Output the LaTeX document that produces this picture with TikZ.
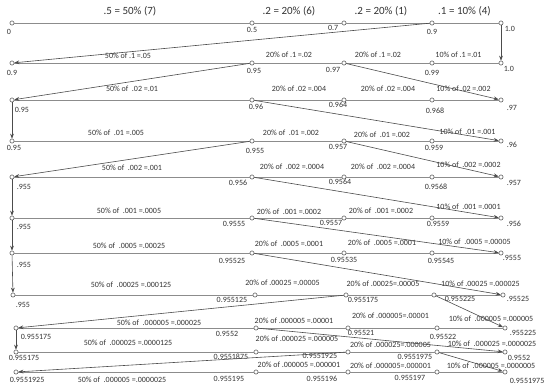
\documentclass[tikz,border=0pt]{standalone}
\usepackage{fontspec}
\setmainfont{Carlito}
\usetikzlibrary{positioning,arrows.meta}
\tikzset{ARROW/.style={draw=black!70, line width=0.6pt, -{Stealth[length=5pt,width=3.8pt]}}}
\tikzset{SEG/.style={draw=black!45, line width=0.9pt}}
\tikzset{PT/.style={circle, draw=black!70, fill=white, line width=0.5pt, inner sep=0pt, minimum size=4.2pt}}
\tikzset{NUM/.style={font=\fontsize{8}{9}\selectfont, text=black!80, inner sep=1pt}}
\tikzset{PCT/.style={font=\fontsize{8}{9}\selectfont, text=black!80, inner sep=0.5pt, midway, above=4pt}}
\tikzset{HEAD/.style={font=\fontsize{11}{12}\selectfont, text=black!80, inner sep=0.5pt, midway, above=6pt}}

\begin{document}
\begin{tikzpicture}[x=1pt, y=-1pt]
    \useasboundingbox (0,0) rectangle (550,391);

    % points
    \node[PT] (p0_0) at (12,23) {};
    \node[PT] (p0_1) at (252,23) {};
    \node[PT] (p0_2) at (344,23) {};
    \node[PT] (p0_3) at (432,23) {};
    \node[PT] (p0_4) at (501,23) {};

    \node[PT] (p1_0) at (12,63) {};
    \node[PT] (p1_1) at (252,63) {};
    \node[PT] (p1_2) at (344,63) {};
    \node[PT] (p1_3) at (432,63) {};
    \node[PT] (p1_4) at (501,63) {};

    \node[PT] (p2_0) at (12,100) {};
    \node[PT] (p2_1) at (252,100) {};
    \node[PT] (p2_2) at (344,100) {};
    \node[PT] (p2_3) at (432,100) {};
    \node[PT] (p2_4) at (501,100) {};

    \node[PT] (p3_0) at (12,141) {};
    \node[PT] (p3_1) at (252,141) {};
    \node[PT] (p3_2) at (344,141) {};
    \node[PT] (p3_3) at (432,141) {};
    \node[PT] (p3_4) at (501,141) {};

    \node[PT] (p4_0) at (12,177) {};
    \node[PT] (p4_1) at (252,177) {};
    \node[PT] (p4_2) at (344,177) {};
    \node[PT] (p4_3) at (432,177) {};
    \node[PT] (p4_4) at (501,177) {};

    \node[PT] (p5_0) at (12,218) {};
    \node[PT] (p5_1) at (252,218) {};
    \node[PT] (p5_2) at (344,218) {};
    \node[PT] (p5_3) at (432,218) {};
    \node[PT] (p5_4) at (501,218) {};

    \node[PT] (p6_0) at (12,253) {};
    \node[PT] (p6_1) at (252,253) {};
    \node[PT] (p6_2) at (344,253) {};
    \node[PT] (p6_3) at (432,253) {};
    \node[PT] (p6_4) at (501,253) {};

    \node[PT] (p7_0) at (13,295) {};
    \node[PT] (p7_1) at (255,295) {};
    \node[PT] (p7_2) at (346,295) {};
    \node[PT] (p7_3) at (434,295) {};
    \node[PT] (p7_4) at (503,295) {};

    \node[PT] (p8_0) at (16,328) {};
    \node[PT] (p8_1) at (256,328) {};
    \node[PT] (p8_2) at (348,328) {};
    \node[PT] (p8_3) at (437,328) {};
    \node[PT] (p8_4) at (505,328) {};

    \node[PT] (p9_0) at (16,352) {};
    \node[PT] (p9_1) at (256,352) {};
    \node[PT] (p9_2) at (348,352) {};
    \node[PT] (p9_3) at (437,352) {};
    \node[PT] (p9_4) at (505,352) {};

    \node[PT] (p10_0) at (16,372) {};
    \node[PT] (p10_1) at (256,372) {};
    \node[PT] (p10_2) at (348,372) {};
    \node[PT] (p10_3) at (437,372) {};
    \node[PT] (p10_4) at (505,372) {};

    % values under the points
    \node[NUM, below=3pt of p0_0, xshift=-3pt] (v0_0) {0};
    \node[NUM, below=1pt of p0_1] (v0_1) {0.5};
    \node[NUM, below left=-1pt and 3pt of p0_2] (v0_2) {0.7};
    \node[NUM, below=3pt of p0_3] (v0_3) {0.9};
    \node[NUM, below right=0pt and 1pt of p0_4] (v0_4) {1.0};

    \node[NUM, below=4pt of p1_0] (v1_0) {0.9};
    \node[NUM, below=2pt of p1_1, xshift=2pt] (v1_1) {0.95};
    \node[NUM, below left=1pt and 1pt of p1_2] (v1_2) {0.97};
    \node[NUM, below=4pt of p1_3] (v1_3) {0.99};
    \node[NUM, below right=0pt and 0pt of p1_4] (v1_4) {1.0};

    \node[NUM, below right=4pt and 0pt of p2_0] (v2_0) {0.95};
    \node[NUM, below=1pt of p2_1, xshift=4pt] (v2_1) {0.96};
    \node[NUM, below=-1pt of p2_2, xshift=-6pt] (v2_2) {0.964};
    \node[NUM, below=4pt of p2_3, xshift=3pt] (v2_3) {0.968};
    \node[NUM, below right=2pt and 3pt of p2_4] (v2_4) {.97};

    \node[NUM, below=1pt of p3_0, xshift=2pt] (v3_0) {0.95};
    \node[NUM, below=4pt of p3_1, xshift=3pt] (v3_1) {0.955};
    \node[NUM, below=0pt of p3_2, xshift=-6pt] (v3_2) {0.957};
    \node[NUM, below=1pt of p3_3, xshift=2pt] (v3_3) {0.959};
    \node[NUM, below right=-2pt and 3pt of p3_4] (v3_4) {.96};

    \node[NUM, below right=4pt and 2pt of p4_0] (v4_0) {.955};
    \node[NUM, below left=0pt and 2pt of p4_1] (v4_1) {0.956};
    \node[NUM, below=-1pt of p4_2, xshift=-4pt] (v4_2) {0.9564};
    \node[NUM, below=3pt of p4_3, xshift=4pt] (v4_3) {0.9568};
    \node[NUM, below right=0pt and 3pt of p4_4] (v4_4) {.957};

    \node[NUM, below right=3pt and 2pt of p5_0] (v5_0) {.955};
    \node[NUM, below left=0pt and 4pt of p5_1] (v5_1) {0.9555};
    \node[NUM, below left=-1pt and -1pt of p5_2] (v5_2) {0.9557};
    \node[NUM, below=0pt of p5_3, xshift=6pt] (v5_3) {0.9559};
    \node[NUM, below right=0pt and 3pt of p5_4] (v5_4) {.956};

    \node[NUM, below right=6pt and 2pt of p6_0] (v6_0) {.955};
    \node[NUM, below left=2pt and 4pt of p6_1] (v6_1) {0.95525};
    \node[NUM, below=1pt of p6_2] (v6_2) {0.95535};
    \node[NUM, below=2pt of p6_3, xshift=9pt] (v6_3) {0.95545};
    \node[NUM, below right=-1pt and -1pt of p6_4] (v6_4) {.9555};

    \node[NUM, below right=4pt and 0pt of p7_0] (v7_0) {.955};
    \node[NUM, below left=-1pt and 5pt of p7_1] (v7_1) {0.955125};
    \node[NUM, below right=-1pt and -1pt of p7_2] (v7_2) {0.955175};
    \node[NUM, below right=-2pt and 8pt of p7_3] (v7_3) {0.955225};
    \node[NUM, below right=-2pt and 1pt of p7_4] (v7_4) {.95525};

    \node[NUM, below right=3pt and 2pt of p8_0] (v8_0) {0.955175};
    \node[NUM, below left=0pt and 15pt of p8_1] (v8_1) {0.9552};
    \node[NUM, below right=-1pt and -3pt of p8_2] (v8_2) {0.95521};
    \node[NUM, below=3pt of p8_3, xshift=6pt] (v8_3) {0.95522};
    \node[NUM, below right=-1pt and 2pt of p8_4] (v8_4) {.955225};

    \node[NUM, below=0pt of p9_0, xshift=8pt] (v9_0) {0.955175};
    \node[NUM, below left=-1pt and 5pt of p9_1] (v9_1) {0.9551875};
    \node[NUM, below left=-2pt and 8pt of p9_2] (v9_2) {0.9551925};
    \node[NUM, below left=-1pt and 2pt of p9_3] (v9_3) {0.9551975};
    \node[NUM, below right=0pt and 0pt of p9_4] (v9_4) {0.9552};

    \node[NUM, below right=2pt and -9pt of p10_0] (v10_0) {0.9551925};
    \node[NUM, below left=1pt and 9pt of p10_1] (v10_1) {0.955195};
    \node[NUM, below left=1pt and 8pt of p10_2] (v10_2) {0.955196};
    \node[NUM, below left=0pt and 9pt of p10_3] (v10_3) {0.955197};
    \node[NUM, below right=3pt and 2pt of p10_4] (v10_4) {0.9551975};

    % rows
    \draw[SEG] (p0_0) -- (p0_1) node[HEAD, xshift=-2pt] (h0_0) {.5 = 50\% (7)}
        -- (p0_2) node[HEAD, xshift=-9pt] (h0_1) {.2 = 20\% (6)}
        -- (p0_3) node[HEAD, xshift=-7pt] (h0_2) {.2 = 20\% (1)}
        -- (p0_4) node[HEAD, xshift=-2pt] (h0_3) {.1 = 10\% (4)};
    \draw[SEG] (p1_0) -- (p1_1) node[PCT, above=3pt, xshift=-4pt] (s1_0) {50\% of .1 =.05}
        -- (p1_2) node[PCT, xshift=-9pt] (s1_1) {20\% of .1 =.02}
        -- (p1_3) node[PCT, xshift=-10pt] (s1_2) {20\% of .1 =.02}
        -- (p1_4) node[PCT, xshift=-8pt] (s1_3) {10\% of .1 =.01};
    \draw[SEG] (p2_0) -- (p2_1) node[PCT, above=7pt] (s2_0) {50\% of \ .02 =.01}
        -- (p2_2) node[PCT, above=7pt, xshift=1pt] (s2_1) {20\% of .02 =.004}
        -- (p2_3) node[PCT, above=7pt] (s2_2) {20\% of .02 =.004}
        -- (p2_4) node[PCT, above=7pt, xshift=-3pt] (s2_3) {10\% of .02 =.002};
    \draw[SEG] (p3_0) -- (p3_1) node[PCT, xshift=-16pt] (s3_0) {50\% of \ .01 =.005}
        -- (p3_2) node[PCT, xshift=-7pt] (s3_1) {20\% of \ .01 =.002}
        -- (p3_3) node[PCT, above=2pt, xshift=-6pt] (s3_2) {20\% of \ .01 =.002}
        -- (p3_4) node[PCT, above=5pt, xshift=1pt] (s3_3) {10\% of \ .01 =.001};
    \draw[SEG] (p4_0) -- (p4_1) node[PCT, above=5pt] (s4_0) {50\% of \ .002 =.001}
        -- (p4_2) node[PCT, above=6pt, xshift=-6pt] (s4_1) {20\% of \ .002 =.0004}
        -- (p4_3) node[PCT, above=6pt, xshift=-5pt] (s4_2) {20\% of \ .002 =.0004}
        -- (p4_4) node[PCT, above=8pt, xshift=2pt] (s4_3) {10\% of \ .002 =.0002};
    \draw[SEG] (p5_0) -- (p5_1) node[PCT, above=3pt, xshift=-3pt] (s5_0) {50\% of \ .001 =.0005}
        -- (p5_2) node[PCT, above=2pt, xshift=-9pt] (s5_1) {20\% of \ .001 =.0002}
        -- (p5_3) node[PCT, above=3pt, xshift=-7pt] (s5_2) {20\% of \ .001 =.0002}
        -- (p5_4) node[PCT, above=7pt, xshift=2pt] (s5_3) {10\% of \ .001 =.0001};
    \draw[SEG] (p6_0) -- (p6_1) node[PCT, above=3pt, xshift=-3pt] (s6_0) {50\% of \ .0005 =.00025}
        -- (p6_2) node[PCT, above=5pt, xshift=-9pt] (s6_1) {20\% of \ .0005 =.0001}
        -- (p6_3) node[PCT, above=6pt, xshift=-6pt] (s6_2) {20\% of \ .0005 =.0001}
        -- (p6_4) node[PCT, above=7pt, xshift=8pt] (s6_3) {10\% of \ .0005 =.00005};
    \draw[SEG] (p7_0) -- (p7_1) node[PCT, above=6pt, xshift=-3pt] (s7_0) {50\% of \ .00025 =.000125}
        -- (p7_2) node[PCT, above=8pt, xshift=-18pt] (s7_1) {20\% of .00025 =.00005}
        -- (p7_3) node[PCT, above=7pt, xshift=-7pt] (s7_2) {20\% of .00025=.00005}
        -- (p7_4) node[PCT, above=7pt, xshift=12pt] (s7_3) {10\% of .00025 =.000025};
    \draw[SEG] (p8_0) -- (p8_1) node[PCT, above=1pt, xshift=23pt] (s8_0) {50\% of \ .000005 =.000025}
        -- (p8_2) node[PCT, above=3pt, xshift=-8pt] (s8_1) {20\% of .000005 =.00001}
        -- (p8_3) node[PCT, above=8pt, xshift=-2pt] (s8_2) {20\% of .000005=.00001}
        -- (p8_4) node[PCT, above=5pt, xshift=20pt] (s8_3) {10\% of \ .000005 =.000005};
    \draw[SEG] (p9_0) -- (p9_1) node[PCT, above=5pt, xshift=-8pt] (s9_0) {50\% of \ .000025 =.0000125}
        -- (p9_2) node[PCT, above=9pt, xshift=-5pt] (s9_1) {20\% of .000025 =.000005}
        -- (p9_3) node[PCT, above=3pt, xshift=-2pt] (s9_2) {20\% of .000025=.000005}
        -- (p9_4) node[PCT, above=4pt, xshift=21pt] (s9_3) {10\% of \ .000025 =.0000025};
    \draw[SEG] (p10_0) -- (p10_1) node[PCT, below=4pt, xshift=-14pt] (s10_0) {50\% of \ .000005 =.0000025}
        -- (p10_2) node[PCT, above=3pt, xshift=-3pt] (s10_1) {20\% of .000005 =.000001}
        -- (p10_3) node[PCT, above=2pt, xshift=-2pt] (s10_2) {20\% of .000005=.000001}
        -- (p10_4) node[PCT, above=2pt, xshift=20pt] (s10_3) {10\% of \ .000005 =.0000005};

    % carries
    \draw[ARROW] (p0_4) -- (p1_4);
    \draw[ARROW] (p0_3) -- (p1_0);
    \draw[ARROW] (p1_1) -- (p2_0);
    \draw[ARROW] (p1_2) -- (p2_4);
    \draw[ARROW] (p2_0) -- (p3_0);
    \draw[ARROW] (p2_1) -- (p3_4);
    \draw[ARROW] (p3_1) -- (p4_0);
    \draw[ARROW] (p3_2) -- (p4_4);
    \draw[ARROW] (p4_0) -- (p5_0);
    \draw[ARROW] (p4_1) -- (p5_4);
    \draw[ARROW] (p5_0) -- (p6_0);
    \draw[ARROW] (p5_1) -- (p6_4);
    \draw[ARROW] (p6_0) -- (p7_0);
    \draw[ARROW] (p6_1) -- (p7_4);
    \draw[ARROW] (p7_2) -- (p8_0);
    \draw[ARROW] (p7_3) -- (p8_4);
    \draw[ARROW] (p8_0) -- (p9_0);
    \draw[ARROW] (p8_1) -- (p9_4);
    \draw[ARROW] (p9_2) -- (p10_0);
    \draw[ARROW] (p9_3) -- (p10_4);
\end{tikzpicture}
\end{document}
